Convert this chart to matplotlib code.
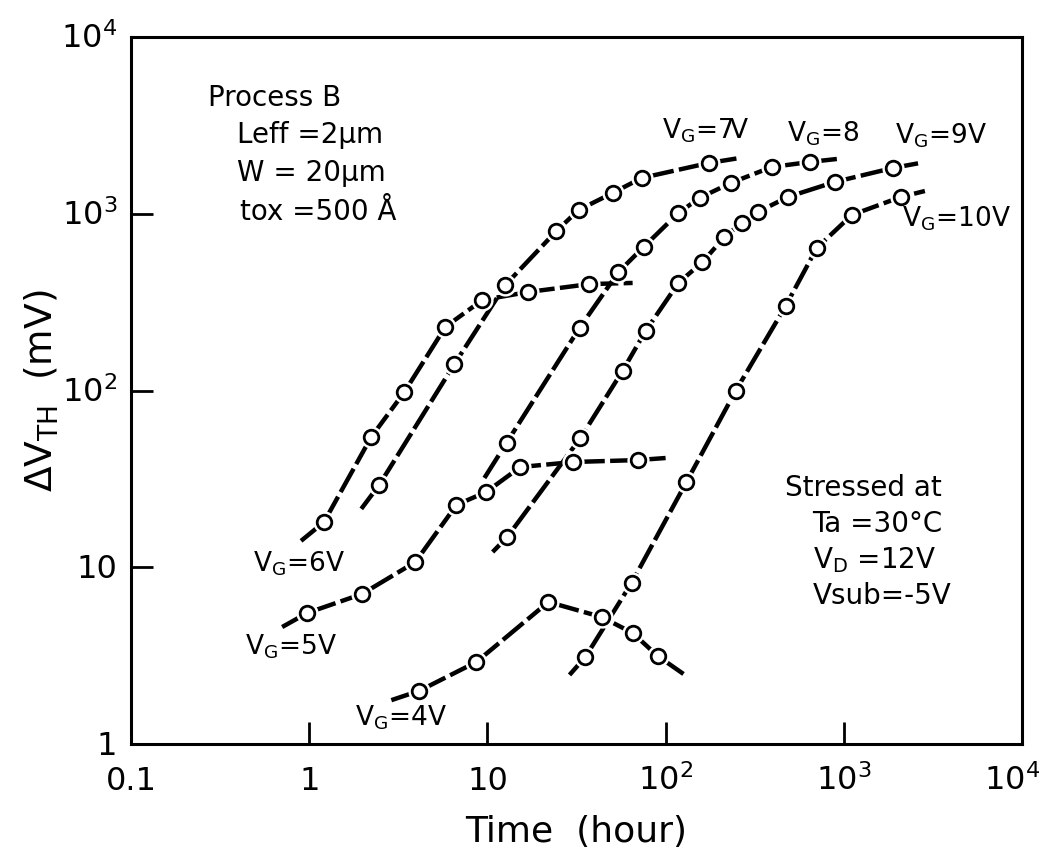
import numpy as np
import matplotlib
matplotlib.use('Agg')
import matplotlib.pyplot as plt
from matplotlib.transforms import ScaledTranslation

# Measured threshold-voltage shift (mV) versus stress time (hour)
# Each gate bias: circle points, plus where the drawn curve starts / ends
vg4_t = [4.15, 8.67, 22.0, 43.7, 65.3, 90.2]
vg4_dv = [2.0, 2.91, 6.36, 5.23, 4.25, 3.15]
vg4_ends = [(2.89, 1.77), (126, 2.49)]

vg5_t = [0.974, 1.98, 3.94, 6.70, 9.87, 15.3, 30.4, 69.6]
vg5_dv = [5.51, 7.06, 10.7, 22.5, 26.7, 36.9, 39.4, 40.4]
vg5_ends = [(0.705, 4.59), (100, 41.5)]

vg6_t = [1.21, 2.23, 3.42, 5.81, 9.37, 17.0, 37.4]
vg6_dv = [18.0, 54.6, 98, 229, 325, 361, 400]
vg6_ends = [(0.90, 14.1), (65.3, 406)]

vg7_t = [2.47, 6.53, 12.6, 24.4, 32.5, 50.4, 73.3, 174.5]
vg7_dv = [29.2, 141, 395, 799, 1050, 1310, 1593, 1937]
vg7_ends = [(1.96, 21.4), (260, 2067)]

vg8_t = [12.8, 32.9, 54.4, 75.2, 118, 155, 232, 394, 644]
vg8_dv = [50.5, 226, 468, 648, 1010, 1228, 1493, 1838, 1963]
vg8_ends = [(9.62, 32.0), (914, 2041)]

vg9_t = [12.9, 33.3, 57.3, 77.2, 118, 161, 214, 267, 329, 485, 890, 1884]
vg9_dv = [14.8, 53.9, 129, 217, 406, 533, 739, 887, 1023, 1244, 1513, 1815]
vg9_ends = [(10.7, 12.2), (2672, 1937)]

vg10_t = [35.5, 64.4, 131, 247, 472, 705, 1109, 2090]
vg10_dv = [3.11, 8.15, 30.4, 99.4, 301, 640, 984, 1244]
vg10_ends = [(28.9, 2.46), (2851, 1345)]

series = [
    (vg4_t, vg4_dv, vg4_ends),
    (vg5_t, vg5_dv, vg5_ends),
    (vg6_t, vg6_dv, vg6_ends),
    (vg7_t, vg7_dv, vg7_ends),
    (vg8_t, vg8_dv, vg8_ends),
    (vg9_t, vg9_dv, vg9_ends),
    (vg10_t, vg10_dv, vg10_ends),
]

x_ticks = [0.1, 1, 10, 100, 1000, 10000]
x_ticklabels = ['0.1', '1', '10', r'$\mathregular{10^2}$', r'$\mathregular{10^3}$', r'$\mathregular{10^4}$']
y_ticks = [1, 10, 100, 1000, 10000]
y_ticklabels = ['1', '10', r'$\mathregular{10^2}$', r'$\mathregular{10^3}$', r'$\mathregular{10^4}$']

plt.rcParams['font.family'] = ['DejaVu Sans']

fig = plt.figure(figsize=(10.47, 8.61), dpi=100)
ax = fig.add_axes([131 / 1047, 117 / 861, 891 / 1047, 707 / 861])
ax.set_xscale('log')
ax.set_yscale('log')
ax.set_xlim(0.1, 1e4)
ax.set_ylim(1, 1e4)

for t, dv, ends in series:
    line_t = [ends[0][0]] + list(t) + [ends[1][0]]
    line_dv = [ends[0][1]] + list(dv) + [ends[1][1]]
    ax.plot(line_t, line_dv, color='black', lw=3.2, linestyle=(0, (6, 1.2)),
            solid_capstyle='butt', dash_capstyle='butt', zorder=2)
    # white halo so the curve stops short of each circle
    ax.plot(t, dv, linestyle='none', marker='o', ms=16, mfc='white', mec='none', zorder=3)
    ax.plot(t, dv, linestyle='none', marker='o', ms=10.5, mfc='white', mec='black',
            mew=2.0, zorder=4)

# axes frame and ticks
for side in ax.spines.values():
    side.set_linewidth(2.2)
ax.minorticks_off()
ax.set_xticks(x_ticks)
ax.set_xticklabels(x_ticklabels)
ax.set_yticks(y_ticks)
ax.set_yticklabels(y_ticklabels)
ax.tick_params(axis='both', which='major', direction='in', length=16, width=2,
               labelsize=23, top=False, right=False)
ax.tick_params(axis='x', pad=33)
ax.tick_params(axis='y', pad=10)
for lbl in ax.get_xticklabels():
    lbl.set_verticalalignment('baseline')
xlbls = ax.get_xticklabels()
xlbls[-1].set_transform(xlbls[-1].get_transform() + ScaledTranslation(-10 / 100, 0, fig.dpi_scale_trans))
for lbl in ax.get_yticklabels():
    lbl.set_verticalalignment('baseline')
    lbl.set_transform(lbl.get_transform() + ScaledTranslation(0, -11 / 100, fig.dpi_scale_trans))

ax.set_xlabel('Time  (hour)', fontsize=26)
ax.xaxis.set_label_coords(0.5, -0.1)
ax.set_ylabel('ΔV$_{\\mathregular{TH}}$  (mV)', fontsize=27)
ax.yaxis.set_label_coords(-0.079, 0.5)

# device and stress conditions
txt = dict(transform=ax.transAxes, fontsize=20, va='center', ha='left')
ax.text(0.086, 0.914, 'Process B', **txt)
ax.text(0.119, 0.861, 'Leff =2μm', **txt)
ax.text(0.119, 0.808, 'W = 20μm', **txt)
ax.text(0.122, 0.752, 'tox =500 Å', **txt)

ax.text(0.734, 0.362, 'Stressed at', **txt)
ax.text(0.765, 0.311, 'Ta =30°C', **txt)
ax.text(0.765, 0.260, 'V$_{\\mathregular{D}}$ =12V', **txt)
ax.text(0.765, 0.209, 'Vsub=-5V', **txt)

# gate-voltage labels
vg = dict(transform=ax.transAxes, fontsize=19, va='center', ha='left')
ax.text(0.596, 0.868, 'V$_{\\mathregular{G}}$=7V', **vg)
ax.text(0.736, 0.863, 'V$_{\\mathregular{G}}$=8', **vg)
ax.text(0.857, 0.860, 'V$_{\\mathregular{G}}$=9V', **vg)
ax.text(0.865, 0.743, 'V$_{\\mathregular{G}}$=10V', **vg)
ax.text(0.137, 0.255, 'V$_{\\mathregular{G}}$=6V', **vg)
ax.text(0.128, 0.137, 'V$_{\\mathregular{G}}$=5V', **vg)
ax.text(0.251, 0.037, 'V$_{\\mathregular{G}}$=4V', **vg)

fig.savefig('out.png', dpi=100)
